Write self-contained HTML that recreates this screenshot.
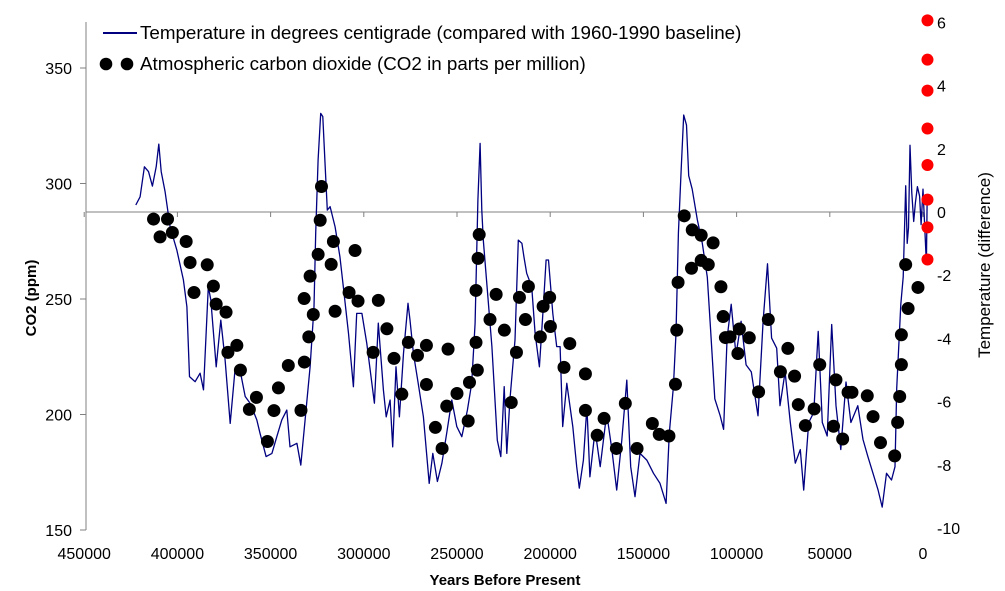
<!DOCTYPE html>
<html><head><meta charset="utf-8"><style>
body{margin:0;background:#fff;}
svg{display:block;font-family:"Liberation Sans",Arial,sans-serif;}
</style></head><body>
<svg id="chart" width="1005" height="591" viewBox="0 0 1005 591" xmlns="http://www.w3.org/2000/svg">
<rect width="1005" height="591" fill="#fff"/>
<g id="axes"></g>
<g id="series"></g>
<g>
<line x1="103" y1="33" x2="137" y2="33" stroke="#000080" stroke-width="2"/>
<text x="140" y="39" font-size="18.8" fill="#000">Temperature in degrees centigrade (compared with 1960-1990 baseline)</text>
<circle cx="106" cy="64" r="6.3" fill="#000"/>
<circle cx="127" cy="64" r="6.3" fill="#000"/>
<text x="140" y="70" font-size="18.8" fill="#000">Atmospheric carbon dioxide (CO2 in parts per million)</text>
</g>
<text transform="translate(36,298) rotate(-90)" text-anchor="middle" font-size="15" font-weight="bold">CO2 (ppm)</text>
<text transform="translate(990,265) rotate(-90)" text-anchor="middle" font-size="17">Temperature (difference)</text>
<text x="505" y="585" text-anchor="middle" font-size="15" font-weight="bold">Years Before Present</text>
</svg>
<script>
const co2Ticks=[150,200,250,300,350];
const tempTicks=[-10,-8,-6,-4,-2,0,2,4,6];
const yearTicks=[450000,400000,350000,300000,250000,200000,150000,100000,50000,0];
const co2Age=[412.8,405.3,409.3,402.7,395.3,393.2,384.0,391.1,380.7,379.2,373.9,368.1,372.9,366.2,357.6,361.4,345.8,348.2,340.5,351.7,333.7,331.9,329.5,327.1,332.0,328.8,324.5,323.4,322.7,316.3,317.5,315.4,307.9,303.1,304.7,292.2,295.0,287.6,283.8,279.6,276.1,271.2,266.4,266.4,254.8,261.6,258.0,255.5,250.0,243.3,244.0,239.1,239.8,239.8,238.7,238.1,232.3,229.0,224.6,220.9,218.1,216.5,213.3,211.7,205.3,203.8,200.3,199.9,189.5,192.6,181.1,181.1,174.8,171.1,164.5,159.7,153.4,145.2,141.5,136.3,132.8,132.1,131.4,128.1,123.8,119.0,112.6,124.2,119.0,115.2,108.4,107.2,106.0,103.5,99.3,98.5,93.2,88.2,83.0,76.5,72.5,68.9,66.9,63.1,58.4,55.4,48.0,46.7,43.1,40.2,38.1,29.9,26.8,22.8,15.2,13.6,12.5,11.6,11.6,8.0,2.7,9.3];
const co2Ppm=[284.6,284.6,276.9,278.8,274.9,265.8,264.8,252.8,255.6,247.8,244.3,229.9,226.9,219.2,207.4,202.2,211.5,201.7,221.2,188.3,201.8,222.7,233.6,243.3,250.2,259.9,269.3,284.1,298.7,274.9,265,244.7,252.8,249.1,271,249.4,226.9,237.1,224.3,208.8,231.2,225.6,229.9,213,228.3,194.4,185.3,203.6,209.1,213.9,197.2,219.2,231.2,253.7,267.6,277.9,241.1,252,236.5,205.2,226.9,250.7,241.1,255.4,233.6,246.8,250.7,238.1,230.7,220.4,217.6,201.8,191,198.3,185.3,204.8,185.3,196.1,191.4,190.7,213.1,236.5,257.2,286,279.9,277.6,274.3,263.3,266.7,264.9,255.3,242.4,233.3,233.6,226.4,237,233.2,209.8,241.1,218.5,228.6,216.6,204.3,195.2,202.4,221.6,194.9,215,189.4,209.6,209.6,208.1,199.1,187.8,182.1,196.6,207.8,221.6,234.5,245.9,255,264.9];
const recentAge=[-2.4,-2.4,-2.4,-2.4,-2.4,-2.4,-2.4,-2.4];
const recentPpm=[370.6,353.6,340.2,323.8,308,293,281,267.1];
const tempAge=[422.3,420.0,417.7,415.5,413.4,411.4,410.0,408.7,406.6,403.9,400.3,396.8,394.9,393.5,390.5,387.8,386.0,383.4,382.1,379.2,376.7,374.4,371.7,369.1,366.4,363.6,361.0,357.4,355.7,352.4,349.3,346.7,344.0,341.3,339.6,335.9,333.8,331.5,328.8,326.7,325.8,324.5,323.1,322.0,320.7,319.6,318.1,315.4,312.8,311.0,308.2,305.6,303.8,301.0,298.4,294.3,292.2,289.5,288.0,285.9,284.5,282.7,280.9,278.7,276.3,275.2,273.4,270.8,268.0,264.9,263.0,260.5,258.1,255.5,252.8,250.1,247.4,244.4,242.1,240.3,238.8,237.6,236.7,235.9,234.0,231.3,228.4,226.5,224.7,223.3,221.6,218.9,217.1,215.2,214.1,212.6,209.9,208.1,205.8,203.7,202.2,200.9,198.6,196.5,194.7,193.3,191.1,187.9,185.8,184.4,182.2,180.3,178.7,175.9,173.2,169.7,166.9,164.3,161.6,158.9,156.8,154.5,151.8,148.2,144.6,141.1,137.8,136.1,133.9,132.5,131.2,129.7,128.4,126.9,125.7,123.8,121.1,118.4,115.7,113.9,111.7,108.8,107.0,105.1,102.9,100.3,97.6,94.9,92.1,88.5,85.8,83.4,81.2,78.5,76.7,74.0,71.2,68.5,65.8,64.0,61.3,58.6,56.2,54.0,51.4,49.0,46.7,44.1,41.3,38.7,35.0,32.2,29.6,26.8,24.1,21.9,19.6,16.9,15.0,14.1,11.9,10.6,9.3,8.5,7.8,7.0,6.0,5.0,4.1,3.0,1.8,1.0,0,-1.8,-2.2];
const tempVal=[0.22,0.48,1.43,1.28,0.82,1.43,2.15,1.28,0.64,-0.47,-1.20,-2.15,-3.00,-5.21,-5.37,-5.10,-5.63,-2.36,-2.78,-4.90,-3.42,-4.68,-6.69,-5.00,-5.00,-5.84,-6.05,-6.58,-7.00,-7.74,-7.64,-7.11,-6.58,-6.27,-7.43,-7.32,-8.01,-6.58,-4.90,-3.00,-0.67,1.65,3.12,3.02,1.43,0.06,0.17,-0.47,-1.41,-2.36,-3.84,-5.53,-3.21,-3.21,-4.16,-6.05,-3.52,-5.63,-6.48,-5.95,-7.43,-4.90,-6.48,-4.47,-2.89,-3.42,-4.47,-5.42,-6.48,-8.59,-7.64,-8.53,-7.95,-7.00,-5.95,-6.79,-7.11,-6.27,-5.42,-3.52,0.38,2.17,0.06,-0.89,-2.26,-4.26,-7.22,-7.74,-5.53,-7.64,-5.95,-4.05,-0.89,-0.99,-1.41,-1.94,-2.36,-3.84,-4.90,-3.00,-1.52,-1.52,-3.21,-4.26,-4.26,-6.79,-5.42,-6.79,-8.06,-8.74,-7.85,-6.16,-8.38,-6.90,-8.06,-6.37,-7.53,-8.80,-7.22,-5.32,-8.06,-9.01,-7.64,-7.85,-8.27,-8.59,-9.22,-7.00,-5.53,-3.84,-0.67,1.36,3.07,2.75,1.15,0.72,-0.24,-0.99,-2.06,-3.78,-5.91,-6.45,-6.88,-3.99,-2.92,-4.53,-3.46,-4.84,-5.06,-6.45,-3.46,-1.64,-3.99,-4.31,-6.13,-5.06,-6.66,-7.95,-7.52,-8.80,-6.66,-6.34,-3.78,-6.66,-7.09,-3.56,-6.13,-7.52,-5.38,-6.66,-6.13,-7.20,-7.73,-8.27,-8.80,-9.34,-8.27,-8.48,-8.06,-5.59,-2.92,-2.06,0.83,-0.99,-0.5,2.11,0.6,-0.3,0.29,0.8,0.50,-0.4,0.72,-1.64,0.29];

const NS='http://www.w3.org/2000/svg';
const xOf=a=>923-a*1.864;            // a in thousands of years
const yCo2=p=>530-(p-150)*2.31;
const yTemp=t=>212-t*31.6;
function mk(tag,attrs,parent){const e=document.createElementNS(NS,tag);for(const k in attrs)e.setAttribute(k,attrs[k]);parent.appendChild(e);return e;}
const axes=document.getElementById('axes');
const series=document.getElementById('series');

const la=mk('line',{x1:86,y1:22,x2:86,y2:530,stroke:'#808080','stroke-width':1},axes);


co2Ticks.forEach(v=>{
  const y=yCo2(v);
  const t=mk('line',{x1:80,y1:y,x2:86,y2:y,stroke:'#808080'},axes);
  
  
  const l=mk('text',{x:72,y:y+6,'text-anchor':'end','font-size':16,fill:'#000'},axes);
  l.textContent=v;
  
  
});
tempTicks.forEach(v=>{
  const l=mk('text',{x:937,y:yTemp(v)+6,'font-size':16,fill:'#000'},axes);
  l.textContent=v;
  
  
});
const xa=mk('line',{x1:86,y1:yTemp(0),x2:923,y2:yTemp(0),stroke:'#808080','stroke-width':1},axes);


yearTicks.forEach(v=>{
  const x=xOf(v/1000);
  const t=mk('line',{x1:x,y1:yTemp(0),x2:x,y2:yTemp(0)+5,stroke:'#808080'},axes);
  
  
  const l=mk('text',{x:x,y:559,'text-anchor':'middle','font-size':16,fill:'#000'},axes);
  l.textContent=v;
  
  
});
let d='';
tempAge.forEach((a,i)=>{d+=(i?'L':'M')+xOf(a).toFixed(1)+','+yTemp(tempVal[i]).toFixed(1);});
const tl=mk('path',{d:d,fill:'none',stroke:'#000080','stroke-width':1.3,'stroke-linejoin':'round'},series);


co2Age.forEach((a,i)=>{
  const c=mk('circle',{cx:xOf(a),cy:yCo2(co2Ppm[i]),r:6.5,fill:'#000'},series);
  
  
});
recentAge.forEach((a,i)=>{
  const c=mk('circle',{cx:xOf(a),cy:yCo2(recentPpm[i]),r:6,fill:'#ff0000'},series);
  
  
});
</script>
</body></html>
